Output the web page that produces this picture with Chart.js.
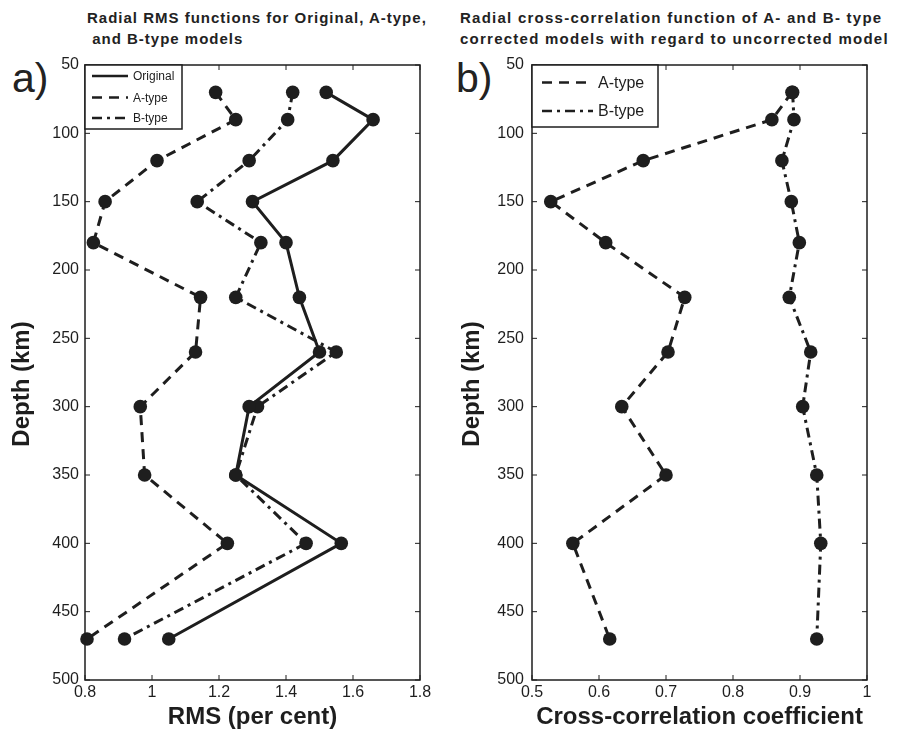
<!DOCTYPE html>
<html><head><meta charset="utf-8">
<script src="https://cdn.jsdelivr.net/npm/chart.js@4/dist/chart.umd.min.js"></script>
<style>
html,body{margin:0;padding:0;background:#fff;}
body{width:909px;height:732px;position:relative;overflow:hidden;font-family:"Liberation Sans",Arial,sans-serif;color:#222;}
.title{position:absolute;font-weight:bold;font-size:15px;line-height:21px;letter-spacing:1px;white-space:pre;}
.lbl{position:absolute;font-size:41px;line-height:41px;}
.wrap{position:absolute;top:0;height:732px;}
</style></head><body>
<div class="title" style="left:87px;top:7px;">Radial RMS functions for Original, A-type,
 and B-type models</div>
<div class="title" style="left:460px;top:7px;letter-spacing:1.25px;">Radial cross-correlation function of A- and B- type
corrected models with regard to uncorrected model</div>
<div class="lbl" style="left:12px;top:58px;">a)</div>
<div class="lbl" style="left:456px;top:58px;">b)</div>
<div class="wrap" style="left:0;width:455px;"><canvas id="c1" width="455" height="732"></canvas></div>
<div class="wrap" style="left:455px;width:454px;"><canvas id="c2" width="454" height="732"></canvas></div>
<script>
// ---- data ----
const depths = [70, 90, 120, 150, 180, 220, 260, 300, 350, 400, 470];
const rmsOriginal = [1.52, 1.66, 1.54, 1.30, 1.40, 1.44, 1.50, 1.29, 1.25, 1.565, 1.05];
const rmsAType = [1.19, 1.25, 1.015, 0.86, 0.825, 1.145, 1.13, 0.965, 0.978, 1.225, 0.806];
const rmsBType = [1.42, 1.405, 1.29, 1.135, 1.325, 1.25, 1.55, 1.315, 1.25, 1.46, 0.918];
const ccAType = [0.888, 0.858, 0.666, 0.528, 0.610, 0.728, 0.703, 0.634, 0.700, 0.561, 0.616];
const ccBType = [0.889, 0.891, 0.873, 0.887, 0.899, 0.884, 0.916, 0.904, 0.925, 0.931, 0.925];
const depthTicks = [50, 100, 150, 200, 250, 300, 350, 400, 450, 500];
const rmsTicks = [0.8, 1, 1.2, 1.4, 1.6, 1.8];
const ccTicks = [0.5, 0.6, 0.7, 0.8, 0.9, 1];
const yTitleText = 'Depth (km)';

const INK = '#1e1e1e';
const FONT = '"Liberation Sans", Arial, sans-serif';
const DASH_A = [10, 7];
const DASH_B = [10, 5, 3, 5];

function pts(xs) { return xs.map((v, i) => ({x: v, y: depths[i]})); }
function ds(label, xs, dash) {
  return {label, data: pts(xs), borderColor: INK, backgroundColor: INK, borderWidth: 3,
    borderDash: dash, pointRadius: 6.8, pointHoverRadius: 6.8, pointBackgroundColor: INK,
    pointBorderColor: INK, pointBorderWidth: 0, showLine: true, tension: 0, clip: false};
}

const framePlugin = {
  id: 'frameTicks',
  afterDraw(chart) {
    const {ctx, chartArea: {left, right, top, bottom}, scales: {x, y}} = chart;
    const o = chart.options.plugins.boxLegend;
    ctx.save();
    ctx.strokeStyle = INK; ctx.lineWidth = 1.5; ctx.setLineDash([]);
    ctx.strokeRect(left, top, right - left, bottom - top);
    ctx.lineWidth = 1;
    const L = 5;
    x.ticks.forEach(t => { const p = x.getPixelForValue(t.value);
      ctx.beginPath(); ctx.moveTo(p, bottom); ctx.lineTo(p, bottom - L);
      ctx.moveTo(p, top); ctx.lineTo(p, top + L); ctx.stroke(); });
    y.ticks.forEach(t => { const p = y.getPixelForValue(t.value);
      ctx.beginPath(); ctx.moveTo(left, p); ctx.lineTo(left + L, p);
      ctx.moveTo(right, p); ctx.lineTo(right - L, p); ctx.stroke(); });
    // y axis title
    ctx.save();
    ctx.translate(o.yTitleX, o.yTitleY);
    ctx.rotate(-Math.PI / 2);
    ctx.font = 'bold 24px ' + FONT;
    ctx.fillStyle = INK; ctx.textAlign = 'center'; ctx.textBaseline = 'middle';
    ctx.fillText(yTitleText, 0, 0);
    ctx.restore();
    // legend box
    const bx = left, by = top;
    ctx.fillStyle = '#fff';
    ctx.fillRect(bx, by, o.w, o.h);
    ctx.lineWidth = 1.5;
    ctx.strokeRect(bx, by, o.w, o.h);
    ctx.font = o.font + 'px ' + FONT;
    ctx.textBaseline = 'middle'; ctx.textAlign = 'left';
    chart.data.datasets.forEach((d, i) => {
      const ry = by + o.rows[i];
      ctx.lineWidth = 2.5; ctx.strokeStyle = INK;
      ctx.setLineDash(d.borderDash || []);
      ctx.beginPath(); ctx.moveTo(bx + o.l0, ry); ctx.lineTo(bx + o.l1, ry); ctx.stroke();
      ctx.setLineDash([]);
      ctx.fillStyle = INK;
      ctx.fillText(d.label, bx + o.tx, ry + 1);
    });
    ctx.restore();
  }
};

function makeChart(id, datasets, xMin, xMax, xTicks, xTitle, cfg) {
  return new Chart(document.getElementById(id), {
    type: 'scatter',
    data: {datasets},
    options: {
      responsive: false, animation: false, devicePixelRatio: 1,
      layout: {padding: {left: 0, top: 65, right: cfg.padRight, bottom: 0}},
      plugins: {legend: {display: false}, tooltip: {enabled: false}, boxLegend: cfg.legend},
      scales: {
        x: {type: 'linear', min: xMin, max: xMax,
          afterBuildTicks: s => { s.ticks = xTicks.map(v => ({value: v})); },
          afterFit: s => { s.height = 52; },
          grid: {display: false, drawTicks: false}, border: {display: false},
          ticks: {color: INK, font: {family: FONT, size: 16}, padding: 3, maxRotation: 0,
            callback: v => String(v)},
          title: {display: true, text: xTitle, color: INK,
            font: {family: FONT, size: 24, weight: 'bold'}, padding: {top: 0, bottom: 0}}},
        y: {type: 'linear', min: 50, max: 500, reverse: true,
          afterBuildTicks: s => { s.ticks = depthTicks.map(v => ({value: v})); },
          afterFit: s => { s.width = cfg.yWidth; },
          grid: {display: false, drawTicks: false}, border: {display: false},
          ticks: {color: INK, font: {family: FONT, size: 16}, padding: cfg.yPad,
            callback: v => String(v)},
          title: {display: false}}
      }
    },
    plugins: [framePlugin]
  });
}

makeChart('c1', [
  ds('Original', rmsOriginal, []),
  ds('A-type', rmsAType, DASH_A),
  ds('B-type', rmsBType, DASH_B)
], 0.8, 1.8, rmsTicks, 'RMS (per cent)',
  {padRight: 35, yWidth: 85, yPad: 6,
   legend: {w: 97, h: 64, font: 12, rows: [11, 32.5, 53], l0: 7, l1: 43, tx: 48, yTitleX: 22, yTitleY: 384}});

makeChart('c2', [
  ds('A-type', ccAType, DASH_A),
  ds('B-type', ccBType, DASH_B)
], 0.5, 1, ccTicks, 'Cross-correlation coefficient',
  {padRight: 42, yWidth: 77, yPad: 8,
   legend: {w: 126, h: 62, font: 16, rows: [17.5, 46], l0: 10, l1: 61, tx: 66, yTitleX: 17, yTitleY: 384}});
</script>
</body></html>
